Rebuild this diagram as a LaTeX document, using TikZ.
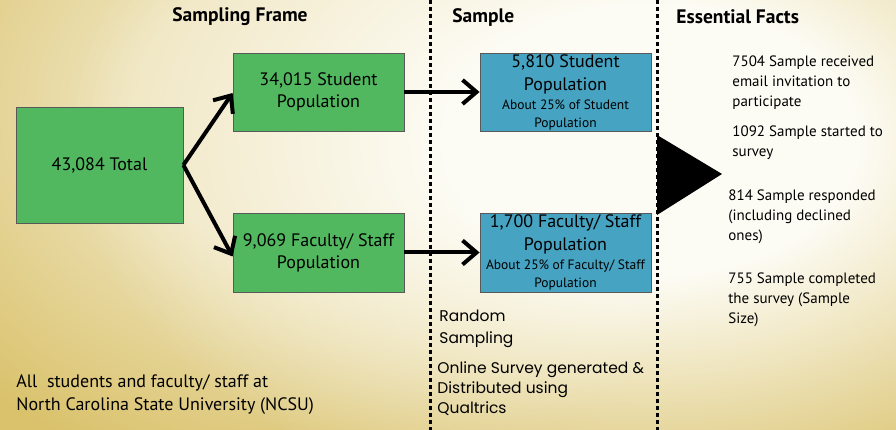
\documentclass[tikz,border=0pt]{standalone}
\usepackage{fontspec}
\setmainfont{PT Sans}
\newfontfamily\roundfont{Poppins}
\usetikzlibrary{arrows.meta,fadings}
\definecolor{goldbg}{RGB}{218,194,108}
\definecolor{creambg}{RGB}{253,252,244}
\definecolor{framegreen}{RGB}{82,184,96}
\definecolor{sampleblue}{RGB}{70,163,194}
\pgfdeclareradialshading{glowshade}{\pgfpointorigin}{color(0bp)=(white); color(9bp)=(white); color(25bp)=(black); color(50bp)=(black)}
\pgfdeclarefading{glow}{\pgfuseshading{glowshade}}
\begin{document}
\begin{tikzpicture}[x=1pt,y=-1pt,line width=.8pt,
  popbox/.style={draw=black!65,fill=framegreen,minimum width=171pt,minimum height=78pt,inner sep=0pt,align=center,font=\fontsize{18}{22}\selectfont},
  sampbox/.style={popbox,fill=sampleblue},
  head/.style={font=\fontsize{19.5}{22}\selectfont\bfseries,inner sep=0pt},
  fact/.style={anchor=north west,inner sep=0pt,align=left,font=\fontsize{15}{20}\selectfont},
  flow/.style={line width=4pt,-{Straight Barb[length=14pt,width=24pt]}},
  dotline/.style={line width=3pt,dash pattern=on 4pt off 3pt}]
 \useasboundingbox (0,0) rectangle (896,430);
 \fill[goldbg] (0,0) rectangle (896,430);
 \begin{scope}
  \clip (0,0) rectangle (896,430);
  \fill[creambg,path fading=glow,opacity=.6] (300,110) ellipse (460 and 380);
  \fill[creambg,path fading=glow] (650,140) ellipse (580 and 380);
 \end{scope}
 \draw[dotline] (430,0)--(430,430); \draw[dotline] (657,0)--(657,430);
 \fill (657,135)--(722,174)--(657,215)--cycle;
 \node[head] (hframe) at (240,17) {Sampling Frame};
 \node[head,anchor=west] (hsample) at (452,17) {Sample};
 \node[head,anchor=west] (hfacts) at (676,17) {Essential Facts};
 \node[popbox,minimum width=167pt,minimum height=116pt] (total) at (99.5,165) {43,084 Total};
 \node[popbox] (student) at (318.5,92) {34,015 Student\\Population};
 \node[popbox,minimum height=79pt] (faculty) at (318.5,252.5) {9,069 Faculty/ Staff\\Population};
 \node[sampbox,font=\fontsize{18}{23}\selectfont] (studsample) at (565.5,92)
  {5,810 Student\\Population\\[-4pt]{\fontsize{13.5}{16}\selectfont About 25\% of Student}\\[-5pt]{\fontsize{13.5}{16}\selectfont Population}};
 \node[sampbox,minimum height=79pt,font=\fontsize{18}{23}\selectfont] (facsample) at (565.5,252.5)
  {1,700 Faculty/ Staff\\Population\\[-4pt]{\fontsize{13.5}{16}\selectfont About 25\% of Faculty/ Staff}\\[-5pt]{\fontsize{13.5}{16}\selectfont Population}};
 \draw[flow] (total.east)--([yshift=-1pt]student.west);
 \draw[flow] (total.east)--([yshift=-4pt]faculty.west);
 \draw[flow] (student.east)--(studsample.west);
 \draw[flow] (faculty.east)--(facsample.west);
 \node[fact] (received) at (732,55) {7504 Sample received\\email invitation to\\participate};
 \node[fact] (started) at (732,125) {1092 Sample started to\\survey};
 \node[fact] (responded) at (728,189) {814 Sample responded\\(including declined\\ones)};
 \node[fact] (completed) at (728,272) {755 Sample completed\\the survey (Sample\\Size)};
 \node[fact,font=\roundfont\fontsize{15.5}{22}\selectfont] (random) at (439,310) {Random\\Sampling};
 \node[fact,font=\roundfont\fontsize{15.5}{20}\selectfont] (online) at (437,361) {Online Survey generated \&\\Distributed using\\Qualtrics};
 \node[fact,font=\fontsize{18}{23}\selectfont] (population) at (16,374) {All\ \ students and faculty/ staff at\\North Carolina State University (NCSU)};
\end{tikzpicture}
\end{document}
